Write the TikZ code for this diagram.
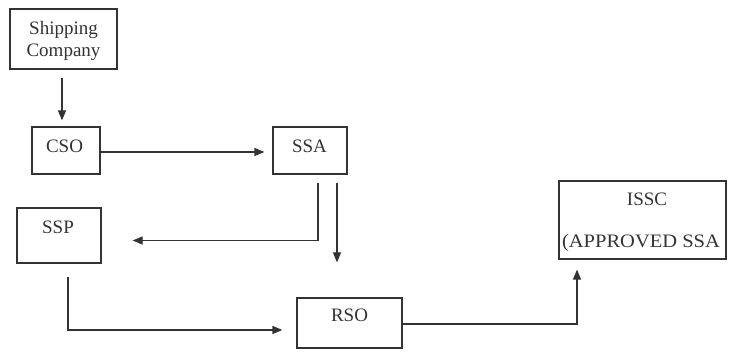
\documentclass[tikz,border=0pt]{standalone}
\usepackage{fontspec}
\setmainfont{Liberation Serif}
\usetikzlibrary{arrows.meta}
\definecolor{ink}{HTML}{333333}
\tikzset{
  box/.style={draw=ink, line width=1.2pt, inner sep=0pt, fill=none},
  lbl/.style={text=ink, inner sep=0pt, font=\fontsize{19}{22}\selectfont},
  arr/.style={draw=ink, line width=1.2pt, -{Triangle[length=10pt,width=8pt]}},
  plain/.style={draw=ink, line width=1.2pt}
}
\begin{document}
\begin{tikzpicture}[x=1pt, y=-1pt]
  \useasboundingbox (0,0) rectangle (729,352);

  % boxes
  \node[box, minimum width=107pt, minimum height=60pt] (ship) at (63.5,39) {};
  \node[box, minimum width=68pt,  minimum height=47pt] (cso)  at (66,150.5) {};
  \node[box, minimum width=74pt,  minimum height=47pt] (ssa)  at (310,150.5) {};
  \node[box, minimum width=84pt,  minimum height=55pt] (ssp)  at (59,235.5) {};
  \node[box, minimum width=105pt, minimum height=50pt] (rso)  at (349.5,323) {};
  \node[box, minimum width=167pt, minimum height=78pt] (issc) at (642.5,220) {};

  % labels
  \node[lbl] (tship1) at (63.5,30) {Shipping};
  \node[lbl] (tship2) at (63.5,52) {Company};
  \node[lbl] (tcso)   at (64.5,146) {CSO};
  \node[lbl] (tssa)   at (309.5,146) {SSA};
  \node[lbl] (tssp)   at (58,227) {SSP};
  \node[lbl] (trso)   at (349.5,315) {RSO};
  \node[lbl] (tissc)  at (647,199) {ISSC};
  \node[lbl, xscale=1.08] (tappr) at (641,243) {(APPROVED SSA};

  % connectors
  \draw[arr, shorten <=8pt, shorten >=6pt]
    ([xshift=-1.5pt]ship.south) -- ([xshift=-4pt]cso.north);
  \draw[arr, shorten >=8pt]
    ([yshift=-1.5pt]cso.east) -- ([yshift=-1.5pt]ssa.west);
  \draw[arr, shorten <=8pt, shorten >=31pt]
    ([xshift=8pt]ssa.south) |- ([yshift=-5pt]ssp.east);
  \draw[arr, shorten <=8pt, shorten >=35pt]
    ([xshift=27pt]ssa.south) -- ([xshift=-12.5pt]rso.north);
  \draw[arr, shorten <=13pt, shorten >=14pt]
    ([xshift=9pt]ssp.south) |- ([yshift=-7pt]rso.west);
  \draw[arr, shorten >=10pt]
    ([yshift=-1pt]rso.east) -| ([xshift=-65.5pt]issc.south);
\end{tikzpicture}
\end{document}
